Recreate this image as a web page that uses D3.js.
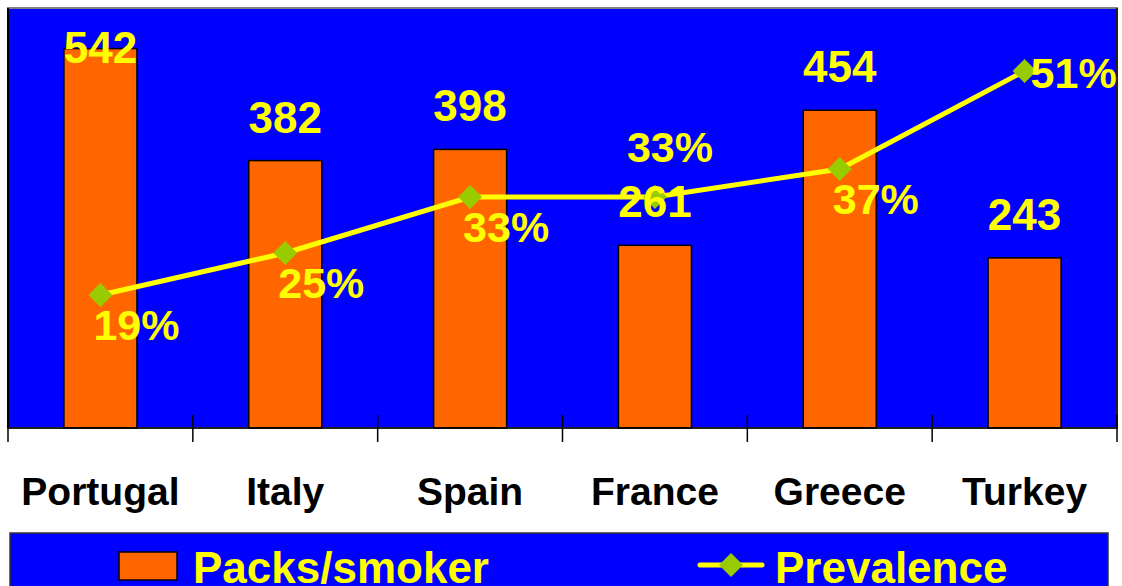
<!DOCTYPE html>
<html>
<head>
<meta charset="utf-8">
<script src="https://cdn.jsdelivr.net/npm/d3@7"></script>
<style>
  html, body { margin: 0; padding: 0; background: #fff; }
  svg { display: block; font-family: "Liberation Sans", Arial, sans-serif; }
</style>
</head>
<body>
<svg id="chart" width="1122" height="586"></svg>
<script>
// data
var countries = ["Portugal", "Italy", "Spain", "France", "Greece", "Turkey"];
var packsPerSmoker = [542, 382, 398, 261, 454, 243];
var prevalence = [19, 25, 33, 33, 37, 51];
// where each prevalence label sits relative to its point
var prevLabelSide = ["below", "below", "below", "above", "below", "right"];
var seriesNames = ["Packs/smoker", "Prevalence"];

var BLUE = "#0000ff", ORANGE = "#ff6600", YELLOW = "#ffff00", GREEN = "#99cc00";

var svg = d3.select("#chart");
var plot = { left: 8, right: 1117, top: 8, bottom: 428 };

var x = d3.scaleBand()
  .domain(countries)
  .range([plot.left, plot.right])
  .paddingInner(0.605)
  .paddingOuter(0.3025);

var yBars = d3.scaleLinear().domain([0, 600]).range([plot.bottom, plot.top]);
var yLine = d3.scaleLinear().domain([0, 60]).range([plot.bottom, plot.top]);

function cx(d) { return x(d) + x.bandwidth() / 2; }

//
// plot area
//
svg.append("rect")
  .attr("x", plot.left).attr("y", plot.top)
  .attr("width", plot.right - plot.left).attr("height", plot.bottom - plot.top)
  .attr("fill", BLUE)
  .attr("stroke", "#808080").attr("stroke-width", 2);

// value axis lines (left and right), labels hidden
svg.append("line")
  .attr("x1", plot.left).attr("x2", plot.left)
  .attr("y1", plot.top).attr("y2", plot.bottom)
  .attr("stroke", "#000").attr("stroke-width", 2);
svg.append("line")
  .attr("x1", plot.right).attr("x2", plot.right)
  .attr("y1", plot.top).attr("y2", plot.bottom)
  .attr("stroke", "#000").attr("stroke-width", 1.5);

//
// bars
//
svg.selectAll(".bar")
  .data(countries)
  .enter().append("rect")
  .attr("class", "bar")
  .attr("x", function (d) { return x(d); })
  .attr("y", function (d, i) { return yBars(packsPerSmoker[i]); })
  .attr("width", x.bandwidth())
  .attr("height", function (d, i) { return plot.bottom - yBars(packsPerSmoker[i]); })
  .attr("fill", ORANGE)
  .attr("stroke", "#000").attr("stroke-width", 1.5);

//
// category axis
//
var xAxis = svg.append("g")
  .attr("transform", "translate(0," + plot.bottom + ")");

xAxis.append("line")
  .attr("x1", plot.left).attr("x2", plot.right)
  .attr("stroke", "#000").attr("stroke-width", 1.5);

var bounds = countries.map(function (d) { return x(d) - x.step() * x.paddingInner() / 2; });
bounds.push(plot.right);
xAxis.selectAll(".tick")
  .data(bounds)
  .enter().append("line")
  .attr("class", "tick")
  .attr("x1", function (d) { return d; }).attr("x2", function (d) { return d; })
  .attr("y1", -13).attr("y2", 14)
  .attr("stroke", "#000").attr("stroke-width", 1.5);

xAxis.selectAll(".cat")
  .data(countries)
  .enter().append("text")
  .attr("class", "cat")
  .attr("x", cx)
  .attr("y", 77)
  .attr("text-anchor", "middle")
  .attr("font-size", 39).attr("font-weight", "bold")
  .attr("fill", "#000")
  .text(function (d) { return d; });

//
// prevalence line
//
var line = d3.line()
  .x(function (d, i) { return cx(countries[i]); })
  .y(function (d) { return yLine(d); });

svg.append("path")
  .datum(prevalence)
  .attr("d", line)
  .attr("fill", "none")
  .attr("stroke", YELLOW).attr("stroke-width", 5);

var diamond = "M0,-12L12,0L0,12L-12,0Z";
svg.selectAll(".marker")
  .data(prevalence)
  .enter().append("path")
  .attr("class", "marker")
  .attr("d", diamond)
  .attr("transform", function (d, i) {
    return "translate(" + cx(countries[i]) + "," + yLine(d) + ")";
  })
  .attr("fill", GREEN);

//
// data labels
//
svg.selectAll(".barLabel")
  .data(packsPerSmoker)
  .enter().append("text")
  .attr("class", "barLabel")
  .attr("x", function (d, i) { return cx(countries[i]); })
  // keep label inside the plot when the bar is too tall
  .attr("y", function (d) { return Math.max(yBars(d) - 28, plot.top + 55); })
  .attr("text-anchor", "middle")
  .attr("font-size", 44).attr("font-weight", "bold")
  .attr("fill", YELLOW)
  .text(function (d) { return d; });

svg.selectAll(".lineLabel")
  .data(prevalence)
  .enter().append("text")
  .attr("class", "lineLabel")
  .attr("x", function (d, i) {
    var side = prevLabelSide[i];
    return cx(countries[i]) + (side === "right" ? 6 : side === "above" ? -28 : -7);
  })
  .attr("y", function (d, i) {
    var side = prevLabelSide[i];
    return yLine(d) + (side === "right" ? 17 : side === "above" ? -35 : 45);
  })
  .attr("font-size", 43).attr("font-weight", "bold")
  .attr("fill", YELLOW)
  .text(function (d) { return d + "%"; });

//
// legend
//
var legend = svg.append("g");
legend.append("rect")
  .attr("x", 10).attr("y", 533)
  .attr("width", 1098).attr("height", 60)
  .attr("fill", BLUE)
  .attr("stroke", "#333").attr("stroke-width", 1.5);

legend.append("rect")
  .attr("x", 119).attr("y", 552)
  .attr("width", 58).attr("height", 28)
  .attr("fill", ORANGE)
  .attr("stroke", "#000").attr("stroke-width", 1.5);
legend.append("text")
  .attr("x", 193).attr("y", 583)
  .attr("font-size", 44).attr("font-weight", "bold")
  .attr("fill", YELLOW)
  .text(seriesNames[0]);

legend.append("line")
  .attr("x1", 700).attr("x2", 762)
  .attr("y1", 565).attr("y2", 565)
  .attr("stroke", YELLOW).attr("stroke-width", 5)
  .attr("stroke-linecap", "round");
legend.append("path")
  .attr("d", diamond)
  .attr("transform", "translate(731,565)")
  .attr("fill", GREEN);
legend.append("text")
  .attr("x", 775).attr("y", 583)
  .attr("font-size", 44).attr("font-weight", "bold")
  .attr("fill", YELLOW)
  .text(seriesNames[1]);
</script>
</body>
</html>
